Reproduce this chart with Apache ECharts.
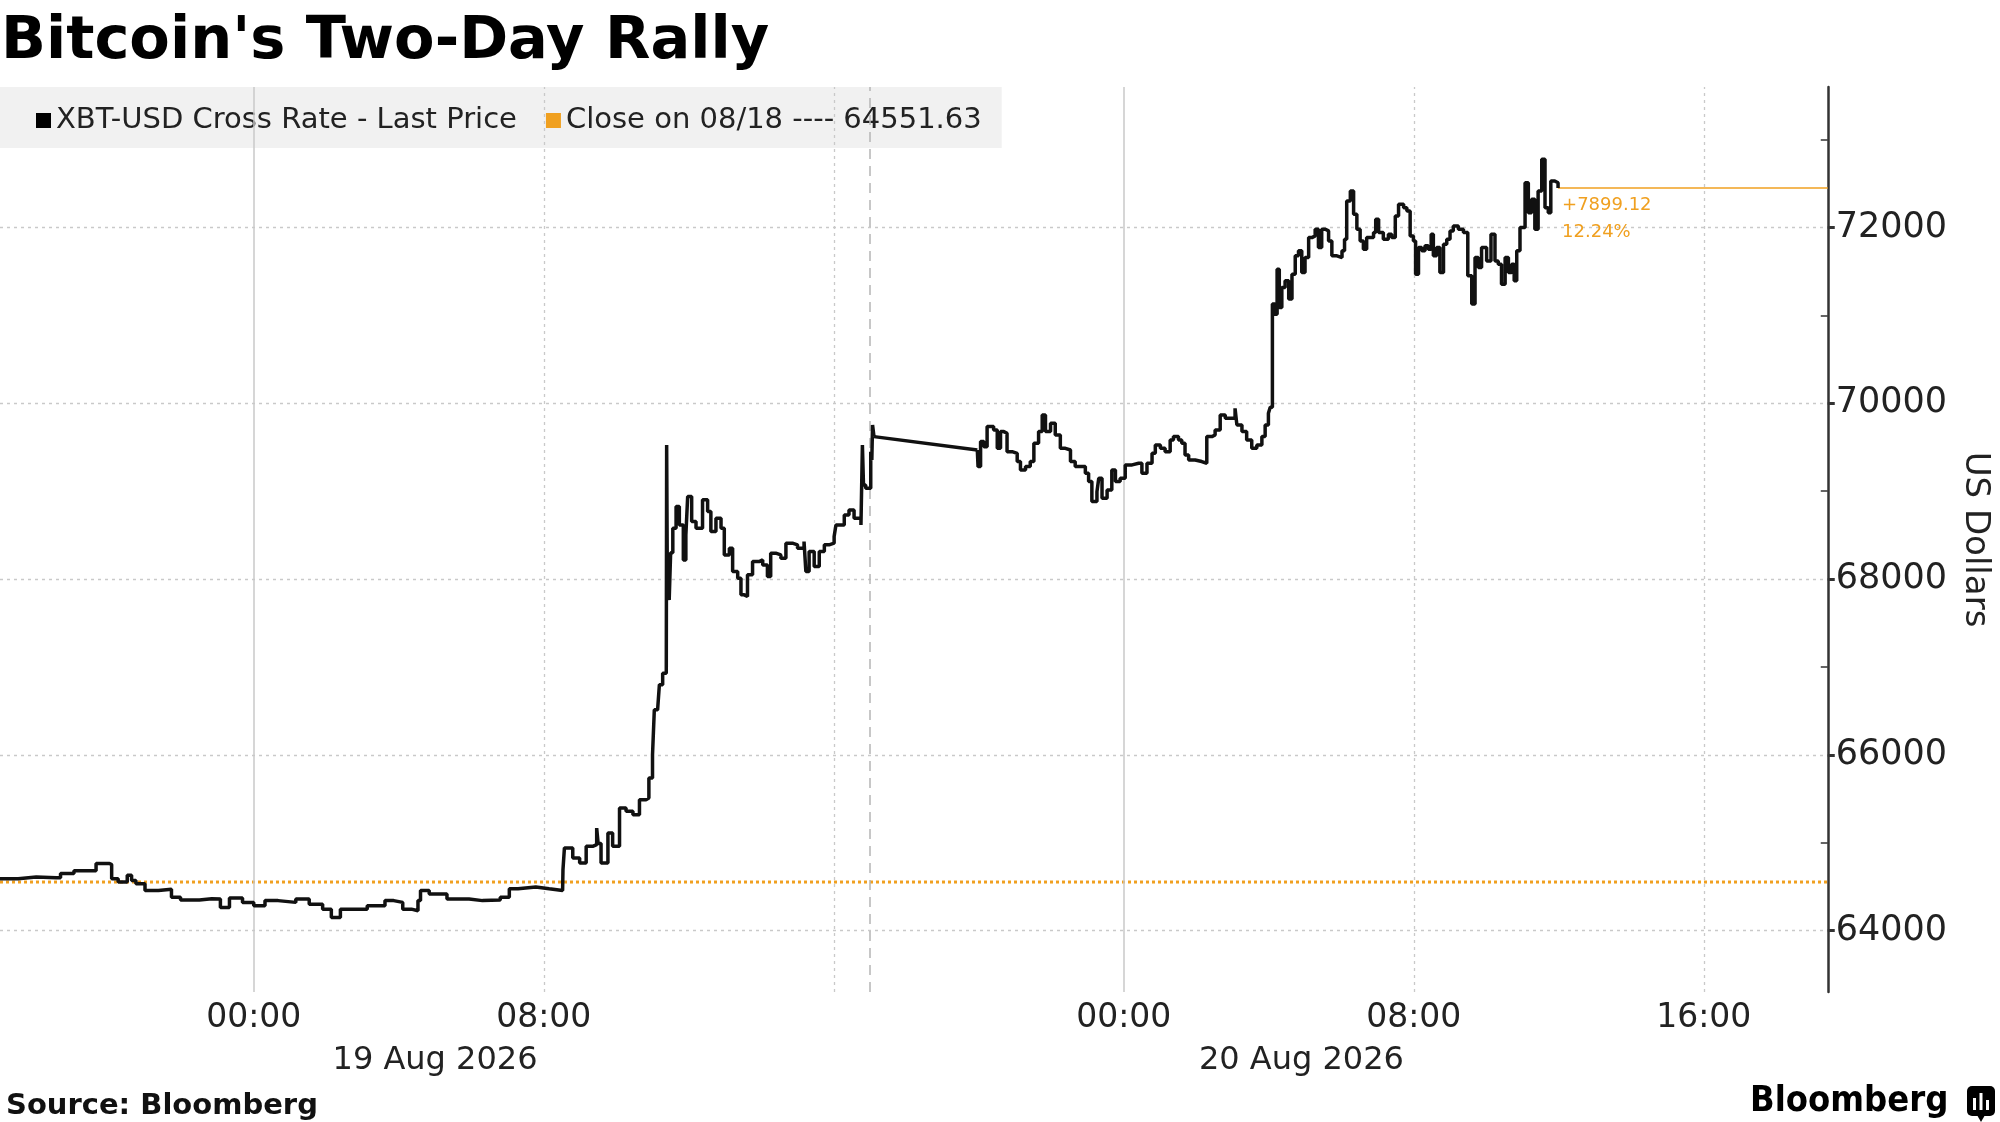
<!DOCTYPE html>
<html>
<head>
<meta charset="utf-8">
<title>Bitcoin's Two-Day Rally</title>
<script src="https://cdn.jsdelivr.net/npm/echarts@6/dist/echarts.min.js"></script>
<style>
  html, body { margin: 0; padding: 0; background: #fff; }
  #main { width: 2000px; height: 1122px; }
</style>
</head>
<body>
<div id="main"></div>
<script>
// hours are counted from 00:00 on 19 Aug 2026
var priceHours = [
  -7, -6.5, -6, -5.45, -5.33, -4.96, -4.35, -3.98, -3.92, -3.74, -3.49, -3.37, -3.25, -3.0,
  -2.63, -2.27, -2.02, -1.5, -1.16, -0.92, -0.67, -0.31, 0, 0.31, 0.67, 1.16, 1.53, 1.9,
  2.14, 2.39, 2.88, 3.13, 3.62, 3.86, 4.11, 4.35, 4.53, 4.6, 4.84, 5.33, 5.94, 6.31, 6.8,
  7.05, 7.29, 7.78, 8.15, 8.52,
  8.53, 8.57, 8.71, 8.8, 8.99, 9.17, 9.35, 9.46, 9.5, 9.58, 9.77, 9.9, 10.09, 10.27, 10.46,
  10.64, 10.82, 10.9, 11.0, 11.05, 11.14, 11.19, 11.28, 11.38, 11.39, 11.41, 11.46, 11.5,
  11.56, 11.65, 11.74, 11.85, 11.92, 11.97, 12.08, 12.2, 12.38, 12.52, 12.61, 12.75, 12.89,
  12.98, 13.12, 13.21, 13.35, 13.44, 13.53, 13.62, 13.76, 13.94, 14.04, 14.17, 14.26, 14.4,
  14.54, 14.68, 14.86, 15.0, 15.18, 15.23, 15.32, 15.46, 15.6, 15.74, 15.87, 16.01, 16.06,
  16.19, 16.29, 16.42, 16.56, 16.75, 16.79, 16.82, 16.88, 17.02, 17.05, 17.07, 17.11,
  19.96, 19.98, 20.05, 20.14, 20.23, 20.32, 20.41, 20.51, 20.6, 20.69, 20.78, 20.92, 21.06,
  21.15, 21.29, 21.42, 21.52, 21.65, 21.75, 21.84, 21.98, 22.11, 22.25, 22.39, 22.53, 22.66,
  22.8, 22.94, 23.03, 23.12, 23.26, 23.31, 23.4, 23.54, 23.67, 23.77, 23.9, 24.04, 24.23,
  24.41, 24.5, 24.64, 24.78, 24.87, 25.01, 25.14, 25.28, 25.37, 25.51, 25.6, 25.69, 25.79,
  25.97, 26.15, 26.29, 26.43, 26.52, 26.66, 26.8, 26.94, 27.07, 27.12, 27.26, 27.39, 27.53,
  27.67, 27.81, 27.9, 27.99, 28.04,
  28.1, 28.17, 28.23, 28.29, 28.36, 28.45, 28.55, 28.64, 28.73, 28.82, 28.91, 29.0, 29.1,
  29.19, 29.28, 29.37, 29.46, 29.56, 29.65, 29.74, 29.88, 30.02, 30.09, 30.15, 30.25, 30.34,
  30.43, 30.52, 30.61, 30.7, 30.8, 30.89, 30.95, 31.03, 31.16, 31.3, 31.39, 31.49, 31.58,
  31.72, 31.81, 31.9, 31.99, 32.05, 32.13, 32.22, 32.31, 32.4, 32.48, 32.54, 32.63, 32.72,
  32.82, 32.91, 33.0, 33.09, 33.23, 33.37, 33.49, 33.6, 33.69, 33.78, 33.87, 34.01, 34.13,
  34.24, 34.33, 34.42, 34.52, 34.61, 34.7, 34.77, 34.84, 34.93, 35.07, 35.16, 35.25, 35.34,
  35.43, 35.53, 35.62, 35.71, 35.78, 35.89, 35.98
];
var priceValues = [
  64590, 64610, 64600, 64600, 64648, 64680, 64763, 64750, 64590, 64551, 64628, 64570, 64532, 64455,
  64470, 64378, 64347, 64360, 64358, 64262, 64370, 64320, 64282, 64340, 64320, 64358, 64300, 64243,
  64147, 64243, 64243, 64282, 64340, 64320, 64243, 64224, 64340, 64455, 64416, 64358, 64340, 64347, 64378,
  64474, 64494, 64474, 64455, 64455,
  64692, 64939, 64939, 64826, 64768, 64958, 64977, 65166, 64990, 64768, 65109, 64958, 65394, 65356, 65318,
  65489, 65508, 65735, 66000, 66512, 66493, 66797, 66929, 66910, 69526, 67896, 67763, 68300,
  68578, 68825, 68616, 68218, 68503, 68939, 68654, 68578, 68901, 68768, 68541, 68692, 68578,
  68275, 68351, 68086, 68010, 67820, 67801, 68048, 68199, 68218, 68161, 68029, 68294, 68275,
  68237, 68408, 68389, 68351, 68427, 68086, 68313, 68142, 68313, 68389, 68408, 68484, 68616,
  68616, 68730, 68787, 68692, 68616, 69526, 69071, 69033, 69450, 69355, 69753, 69621,
  69469, 69280, 69564, 69507, 69735, 69735, 69697, 69488, 69678, 69659, 69450, 69431, 69337,
  69242, 69280, 69337, 69545, 69678, 69867, 69678, 69773, 69640, 69488, 69469, 69337, 69280,
  69280, 69204, 69109, 68882, 68995, 69147, 68920, 69014, 69242, 69109, 69147, 69299, 69318,
  69318, 69204, 69318, 69431, 69526, 69488, 69450, 69583, 69621, 69583, 69545, 69412, 69355,
  69337, 69318, 69621, 69640, 69697, 69867, 69829, 69829, 69943, 69754, 69678, 69583, 69488,
  69526, 69621, 69754, 69886, 69955,
  71129, 71015, 71526, 71091, 71318, 71394, 71186, 71470, 71678, 71735, 71489, 71659, 71886,
  71905, 71981, 71773, 71981, 71962, 71848, 71678, 71659, 71735, 71867, 72303, 72417, 72152,
  71981, 71848, 71754, 71886, 71886, 71943, 72095, 71943, 71867, 71924, 71886, 72133, 72265,
  72227, 72189, 71905, 71848, 71470, 71773, 71735, 71792, 71754, 71924, 71678, 71773, 71489,
  71810, 71867, 71962, 72019, 71981, 71943, 71451, 71129, 71659, 71545, 71773, 71621, 71924,
  71621, 71583, 71356, 71659, 71489, 71583, 71394, 71735, 72000, 72511, 72170, 72322, 71981,
  72417, 72777, 72227, 72170, 72530, 72511, 72450.75
];

var closePrice = 64551.63;
var changeLabels = ['+7899.12', '12.24%'];
var xMin = -7, xMax = 43.42;
var timeTicks = [0, 8, 24, 32, 40];
var dateTicks = [5, 28.9];
var dateLabels = ['19 Aug 2026', '20 Aug 2026'];
var priceTicks = [64000, 66000, 68000, 70000, 72000];
var minorTicks = [65000, 67000, 69000, 71000, 73000];
var dayLines = [0, 24];
var hourLines = [8, 16, 32, 40];
var sessionLines = [17];

var FONT = 'DejaVu Sans';
var ORANGE = '#f0a020';
var GRID = '#c9c9c9';
var PRICE_NAME = 'XBT-USD Cross Rate - Last Price';
var CLOSE_NAME = 'Close on 08/18 ---- 64551.63';

var priceData = priceHours.map(function (h, i) { return [h, priceValues[i]]; });
var lastPoint = priceData[priceData.length - 1];

// split where there is no trading (gap over an hour), the gap itself is a straight join
var gapAt = 1;
while (gapAt < priceData.length && priceData[gapAt][0] - priceData[gapAt - 1][0] < 1) gapAt++;
var firstPart = priceData.slice(0, gapAt);
var secondPart = priceData.slice(gapAt);
var gapJoin = [priceData[gapAt - 1], priceData[gapAt]];

function hourLabel(v) {
  var h = ((v % 24) + 24) % 24;
  return (h < 10 ? '0' : '') + h + ':00';
}

var vLines = []
  .concat(dayLines.map(function (v) {
    return { xAxis: v, lineStyle: { color: GRID, width: 1.5, type: 'solid' } };
  }))
  .concat(hourLines.map(function (v) {
    return { xAxis: v, lineStyle: { color: GRID, width: 1.3, type: [3, 4] } };
  }))
  .concat(sessionLines.map(function (v) {
    return { xAxis: v, lineStyle: { color: '#b5b5b5', width: 1.5, type: [10, 7] } };
  }));

function priceSeries(data, step) {
  return {
    name: PRICE_NAME, type: 'line', z: 5, color: '#000',
    showSymbol: false, step: step, data: data,
    lineStyle: { color: '#111', width: 3.5 }
  };
}

var lastSeries = priceSeries(secondPart, 'end');
lastSeries.markLine = {
  silent: true, symbol: ['none', 'none'],
  lineStyle: { color: ORANGE, width: 1.6, type: 'solid' },
  label: {
    show: true, position: 'insideStartBottom', distance: 4,
    formatter: changeLabels.join('\n'),
    fontFamily: FONT, fontSize: 18, lineHeight: 27, color: ORANGE
  },
  data: [[{ coord: lastPoint }, { coord: [xMax, lastPoint[1]] }]]
};

var option = {
  animation: false,
  backgroundColor: '#fff',
  textStyle: { fontFamily: FONT },
  title: {
    text: "Bitcoin's Two-Day Rally",
    left: 0, top: 0, padding: [13, 0, 0, 1],
    textStyle: { fontFamily: FONT, fontSize: 59, fontWeight: 'bold', color: '#000' }
  },
  legend: {
    left: 0, top: 87,
    padding: [19, 20, 13, 36],
    itemGap: 29, itemWidth: 15, itemHeight: 15,
    icon: 'rect',
    backgroundColor: 'rgba(230,230,230,0.55)',
    textStyle: { fontFamily: FONT, fontSize: 29, color: '#222' },
    data: [PRICE_NAME, CLOSE_NAME]
  },
  grid: { left: 0, right: 170, top: 87, bottom: 130 },
  xAxis: [{
    type: 'value', min: xMin, max: xMax,
    axisLine: { show: false, onZero: false }, axisTick: { show: false }, splitLine: { show: false },
    axisLabel: {
      customValues: timeTicks, formatter: hourLabel,
      fontFamily: FONT, fontSize: 33, color: '#222', margin: 10
    }
  }, {
    type: 'value', min: xMin, max: xMax, position: 'bottom', offset: 44,
    axisLine: { show: false, onZero: false }, axisTick: { show: false }, splitLine: { show: false },
    axisLabel: {
      customValues: dateTicks,
      formatter: function (v) { return dateLabels[dateTicks.indexOf(v)]; },
      fontFamily: FONT, fontSize: 32, color: '#222', margin: 9
    }
  }],
  yAxis: [{
    type: 'value', position: 'right', min: 63300, max: 73600,
    axisLine: { show: true, onZero: false, lineStyle: { color: '#333', width: 2.5 } },
    axisTick: { show: true, inside: false, length: 7, customValues: priceTicks,
      lineStyle: { color: '#333', width: 3 } },
    axisLabel: { customValues: priceTicks, formatter: function (v) { return String(v); },
      fontFamily: FONT, fontSize: 35, color: '#222', margin: 8 },
    splitLine: { show: true, lineStyle: { color: GRID, width: 1.3, type: [3, 4] } },
    name: 'US Dollars', nameLocation: 'middle', nameRotate: -90, nameGap: 128,
    nameTextStyle: { fontFamily: FONT, fontSize: 34, color: '#222' }
  }, {
    type: 'value', position: 'right', min: 63300, max: 73600,
    axisLine: { show: false, onZero: false },
    axisTick: { show: true, inside: true, length: 7, customValues: minorTicks,
      lineStyle: { color: '#333', width: 1.5 } },
    axisLabel: { show: false },
    splitLine: { show: false }
  }],
  series: [{
    name: CLOSE_NAME,
    type: 'line', z: 2,
    color: ORANGE,
    showSymbol: false, silent: true,
    data: [[xMin, closePrice], [xMax, closePrice]],
    lineStyle: { color: ORANGE, width: 3, type: [3, 3] },
    markLine: {
      silent: true, symbol: ['none', 'none'], label: { show: false },
      data: vLines
    }
  },
    priceSeries(firstPart, 'end'),
    priceSeries(gapJoin, false),
    lastSeries
  ],
  graphic: [{
    type: 'text', left: 6, top: 1092,
    style: { text: 'Source: Bloomberg', font: 'bold 29px "DejaVu Sans"', fill: '#111' }
  }, {
    type: 'text', left: 1750, top: 1084,
    style: { text: 'Bloomberg', font: 'bold 36px "DejaVu Sans Condensed", "DejaVu Sans"', fill: '#000' }
  }, {
    type: 'group', left: 1967, top: 1086,
    children: [
      { type: 'rect', shape: { x: 0, y: 0, width: 28, height: 30, r: 5 }, style: { fill: '#000' } },
      { type: 'polygon', shape: { points: [[10, 29], [18, 29], [14, 36]] }, style: { fill: '#000' } },
      { type: 'rect', shape: { x: 6, y: 12, width: 3, height: 12 }, style: { fill: '#fff' } },
      { type: 'rect', shape: { x: 12.5, y: 7, width: 3, height: 17 }, style: { fill: '#fff' } },
      { type: 'rect', shape: { x: 19, y: 14, width: 3, height: 10 }, style: { fill: '#fff' } }
    ]
  }]
};

echarts.init(document.getElementById('main')).setOption(option);
</script>
</body>
</html>
